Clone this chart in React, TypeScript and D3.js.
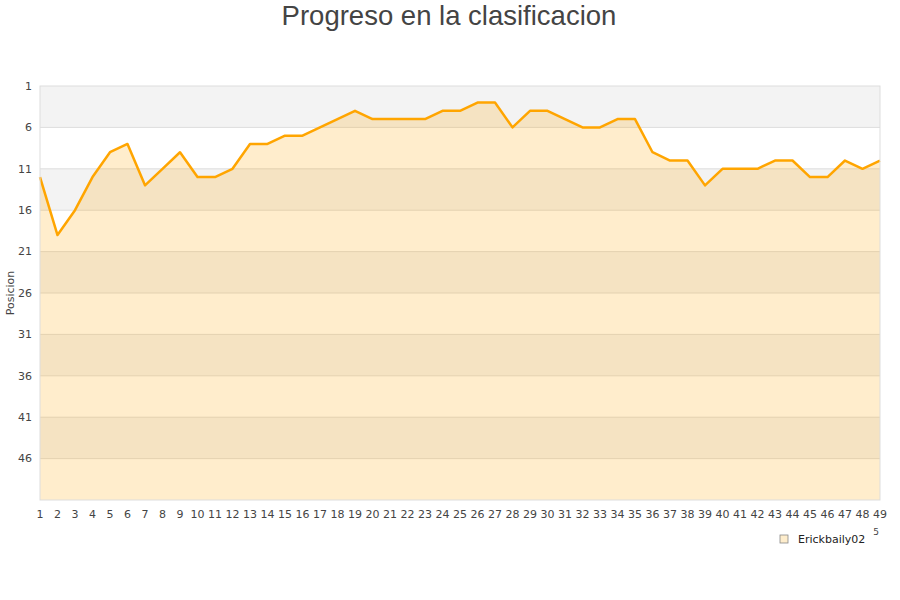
import { useEffect, useRef } from "react";
import * as d3 from "d3";

// jornadas 1..49
const rounds = d3.range(1, 50);

// posicion por jornada
const positions = [
    12, 19, 16, 12, 9, 8, 13, 11, 9, 12,
    12, 11, 8, 8, 7, 7, 6, 5, 4, 5,
    5, 5, 5, 4, 4, 3, 3, 6, 4, 4,
    5, 6, 6, 5, 5, 9, 10, 10, 13, 11,
    11, 11, 10, 10, 12, 12, 10, 11, 10,
];

const yTicks = [1, 6, 11, 16, 21, 26, 31, 36, 41, 46];
const seriesName = "Erickbaily02";

export default function App() {
    const svgRef = useRef<SVGSVGElement | null>(null);

    useEffect(() => {
        if (!svgRef.current) return;
        d3.select(svgRef.current).selectAll("*").remove();

        const width = 900;
        const height = 600;
        const margin = { top: 86, right: 20, bottom: 100, left: 40 };
        const innerWidth = width - margin.left - margin.right;
        const innerHeight = height - margin.top - margin.bottom;

        const svg = d3.select(svgRef.current);

        // Title
        svg.append("text")
            .attr("x", 449)
            .attr("y", 25)
            .attr("text-anchor", "middle")
            .attr("font-family", "'Liberation Sans', Arial, sans-serif")
            .attr("font-size", "27.5px")
            .attr("fill", "#444")
            .text("Progreso en la clasificacion");

        const g = svg.append("g")
            .attr("transform", `translate(${margin.left},${margin.top})`);

        const x = d3.scaleLinear().domain([1, 49]).range([0, innerWidth]);
        const y = d3.scaleLinear().domain([1, 51]).range([0, innerHeight]);

        // Alternating background bands
        g.selectAll(".band")
            .data(yTicks)
            .enter()
            .append("rect")
            .attr("x", 0)
            .attr("width", innerWidth)
            .attr("y", (d) => y(d))
            .attr("height", (d) => y(d + 5) - y(d))
            .attr("fill", (_, i) => (i % 2 === 0 ? "#f3f3f3" : "#ffffff"));

        // Grid lines
        g.selectAll(".grid")
            .data(yTicks.slice(1))
            .enter()
            .append("line")
            .attr("x1", 0)
            .attr("x2", innerWidth)
            .attr("y1", (d) => y(d))
            .attr("y2", (d) => y(d))
            .attr("stroke", "#dddddd")
            .attr("stroke-width", 1);

        // Area under line
        const area = d3.area<number>()
            .x((_, i) => x(rounds[i]))
            .y0(innerHeight)
            .y1((d) => y(d));

        g.append("path")
            .datum(positions)
            .attr("d", area)
            .attr("fill", "#ffa500")
            .attr("fill-opacity", 0.2);

        const line = d3.line<number>()
            .x((_, i) => x(rounds[i]))
            .y((d) => y(d));

        g.append("path")
            .datum(positions)
            .attr("d", line)
            .attr("fill", "none")
            .attr("stroke", "#ffa500")
            .attr("stroke-width", 2.5)
            .attr("stroke-linejoin", "round");

        // Plot border
        g.append("rect")
            .attr("x", 0)
            .attr("y", 0)
            .attr("width", innerWidth)
            .attr("height", innerHeight)
            .attr("fill", "none")
            .attr("stroke", "#dddddd");

        const font = "'DejaVu Sans', sans-serif";

        // Y tick labels
        g.selectAll(".ytick")
            .data(yTicks)
            .enter()
            .append("text")
            .attr("x", -8)
            .attr("y", (d) => y(d))
            .attr("dy", "0.35em")
            .attr("text-anchor", "end")
            .attr("font-family", font)
            .attr("font-size", "11px")
            .attr("fill", "#444")
            .text((d) => d);

        // X tick labels
        g.selectAll(".xtick")
            .data(rounds)
            .enter()
            .append("text")
            .attr("x", (d) => x(d))
            .attr("y", innerHeight + 18)
            .attr("text-anchor", "middle")
            .attr("font-family", font)
            .attr("font-size", "11px")
            .attr("fill", "#444")
            .text((d) => d);

        // Y axis title
        svg.append("text")
            .attr("transform", `translate(14,${margin.top + innerHeight / 2}) rotate(-90)`)
            .attr("text-anchor", "middle")
            .attr("font-family", font)
            .attr("font-size", "11px")
            .attr("fill", "#444")
            .text("Posicion");

        // stray clipped label in the corner
        svg.append("text")
            .attr("x", 876)
            .attr("y", 535)
            .attr("text-anchor", "middle")
            .attr("font-family", font)
            .attr("font-size", "9px")
            .attr("fill", "#444")
            .text("5");

        // Legend
        const legend = svg.append("g").attr("transform", "translate(780,535)");
        legend.append("rect")
            .attr("x", 0)
            .attr("y", 0)
            .attr("width", 8)
            .attr("height", 8)
            .attr("fill", "#feedcc")
            .attr("stroke", "#888")
            .attr("stroke-width", 0.8);
        legend.append("text")
            .attr("x", 18)
            .attr("y", 4)
            .attr("dy", "0.35em")
            .attr("font-family", font)
            .attr("font-size", "11px")
            .attr("fill", "#222")
            .text(seriesName);
    }, []);

    return (
        <svg
            ref={svgRef}
            width={900}
            height={600}
            style={{ position: "absolute", left: 0, top: 0 }}
        />
    );
}
